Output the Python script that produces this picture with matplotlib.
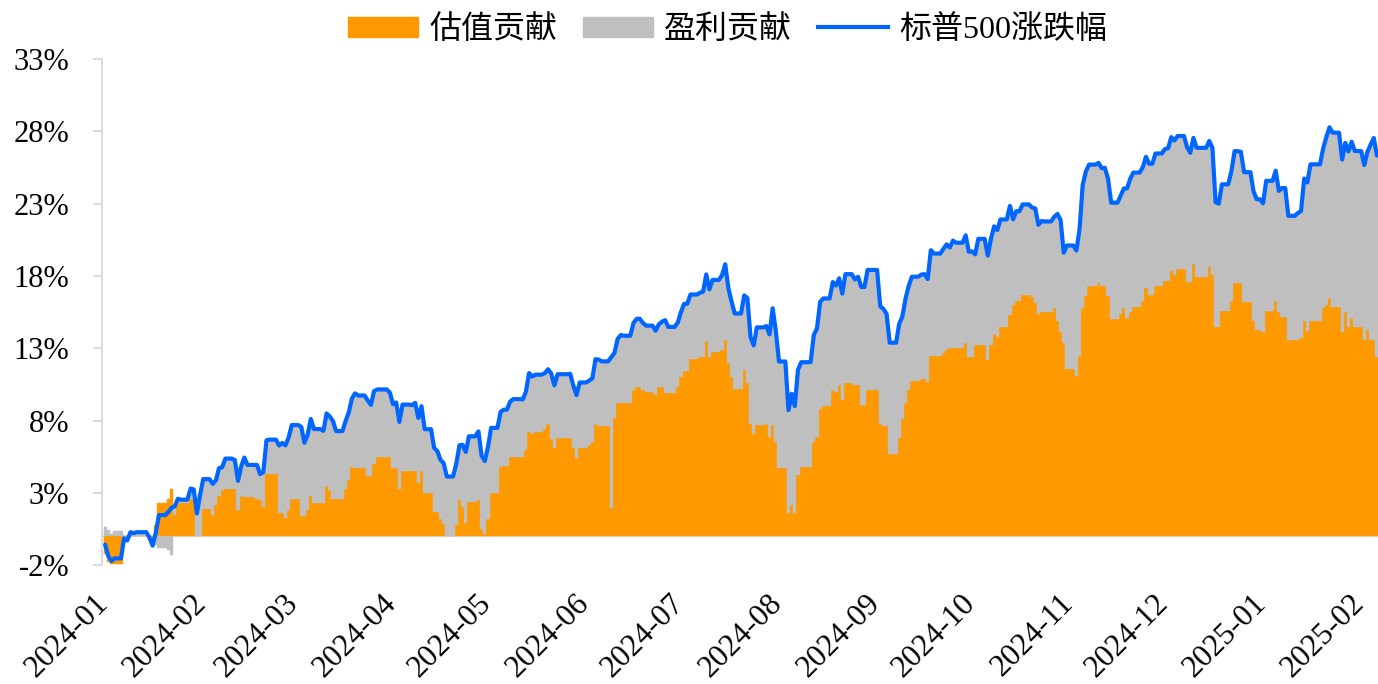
import numpy as np
import pandas as pd
import matplotlib
matplotlib.use("Agg")
import matplotlib.pyplot as plt
import matplotlib.dates as mdates
import matplotlib.transforms as mtransforms
from matplotlib.patches import Patch
from matplotlib.lines import Line2D
from matplotlib.ticker import FuncFormatter

plt.rcParams['font.family'] = ['Liberation Serif', 'Noto Sans CJK SC']

# trading-day values (Mon-Fri, holidays carry the previous close), in %
# one row per week, first row starts 2024-01-02
sp500 = [
    -0.57, -1.36, -1.70, -1.52,
    -0.13, -0.28, 0.29, 0.22, 0.29,
    0.29, -0.08, -0.64, 0.23, 1.47,
    1.69, 1.99, 2.07, 2.60, 2.54,
    3.30, 3.25, 1.59, 2.86, 3.96,
    3.63, 3.87, 4.72, 4.78, 5.38,
    5.28, 3.84, 4.84, 5.45, 4.94,
    4.94, 4.31, 4.44, 6.65, 6.69,
    6.28, 6.46, 6.29, 6.84, 7.70,
    7.57, 6.47, 7.02, 8.12, 7.42,
    7.30, 8.50, 8.29, 7.98, 7.28,
    7.96, 8.57, 9.53, 9.89, 9.74,
    9.40, 9.09, 10.03, 10.16, 10.16,
    9.94, 9.14, 9.26, 7.91, 9.11,
    9.07, 9.23, 8.19, 9.00, 7.41,
    6.12, 5.90, 5.29, 5.06, 4.14,
    5.05, 6.30, 6.33, 5.84, 6.92,
    7.26, 5.57, 5.21, 6.17, 7.50,
    8.61, 8.76, 8.76, 9.31, 9.49,
    9.47, 10.00, 11.29, 11.05, 11.18,
    11.29, 11.56, 11.26, 10.44, 11.21,
    11.21, 11.24, 10.42, 9.76, 10.64,
    10.77, 10.93, 12.25, 12.22, 12.10,
    12.39, 12.69, 13.65, 13.92, 13.87,
    14.75, 15.04, 15.04, 14.75, 14.57,
    14.22, 14.66, 14.84, 14.95, 14.48,
    14.78, 15.50, 16.08, 16.08, 16.72,
    16.84, 16.92, 18.11, 17.08, 17.73,
    18.06, 18.81, 17.16, 16.24, 15.41,
    16.66, 16.48, 13.78, 13.20, 14.45,
    14.54, 13.97, 15.77, 14.19, 12.09,
    8.73, 9.86, 9.01, 11.52, 12.04,
    12.05, 13.93, 14.37, 16.21, 16.45,
    17.58, 17.34, 17.84, 16.79, 18.13,
    17.76, 17.95, 17.24, 17.24, 18.42,
    18.42, 15.91, 15.73, 15.38, 13.39,
    14.70, 15.21, 16.44, 17.32, 17.95,
    18.10, 18.13, 17.79, 19.78, 19.55,
    19.89, 20.19, 19.97, 20.45, 20.30,
    20.81, 19.68, 19.70, 19.50, 20.57,
    19.41, 20.57, 21.43, 21.18, 21.91,
    22.85, 21.92, 22.49, 22.47, 22.95,
    22.73, 22.67, 21.54, 21.80, 21.77,
    22.09, 22.29, 21.88, 19.61, 20.11,
    19.77, 21.24, 24.30, 25.23, 25.70,
    25.82, 25.45, 25.48, 24.72, 23.07,
    23.56, 24.05, 24.05, 24.71, 25.15,
    25.53, 26.24, 25.76, 25.76, 26.47,
    26.78, 26.84, 27.60, 27.37, 27.68,
    26.90, 26.52, 27.55, 26.86, 26.86,
    27.34, 26.85, 23.11, 23.00, 24.34,
    25.25, 26.63, 26.63, 26.58, 25.18,
    23.84, 23.31, 23.31, 23.03, 24.58,
    25.28, 23.88, 24.08, 24.08, 22.16,
    22.35, 22.49, 24.74, 24.47, 25.72,
    25.72, 26.82, 27.60, 28.28, 27.91,
    26.05, 27.21, 26.61, 27.28, 26.64,
    25.67, 26.58, 27.08, 27.54, 26.33,
]

valuation = [
    -1.2, -1.8, -1.9, -1.9,
    0.0, 0.0, 0.05, 0.05, 0.05,
    0.05, -0.1, -0.3, 0.8, 2.3,
    2.6, 3.3, 1.5, 2.3, 2.3,
    2.6, 2.6, 0.0, 0.0, 1.9,
    1.5, 2.2, 2.8, 3.2, 3.3,
    3.3, 1.8, 2.8, 2.7, 2.7,
    2.6, 2.5, 2.0, 4.3, 4.3,
    1.6, 1.6, 1.3, 1.8, 2.6,
    1.4, 1.4, 1.8, 2.8, 2.3,
    2.3, 3.45, 3.2, 2.6, 2.6,
    3.3, 3.9, 4.8, 4.75, 4.75,
    4.2, 4.2, 5.0, 5.5, 5.5,
    5.5, 4.7, 4.7, 3.3, 4.5,
    4.5, 4.55, 3.7, 4.5, 3.0,
    1.7, 1.7, 1.2, 0.86, 0.0,
    0.8, 2.5, 2.0, 0.9, 2.4,
    2.5, 0.5, 0.2, 1.2, 3.0,
    4.8, 4.9, 4.9, 5.5, 5.5,
    5.5, 6.0, 7.2, 7.1, 7.2,
    7.4, 7.8, 6.7, 6.1, 6.8,
    6.8, 6.8, 6.1, 5.4, 6.1,
    6.3, 6.5, 7.77, 7.6, 7.6,
    1.94, 8.2, 9.2, 9.25, 9.25,
    10.1, 10.3, 10.3, 10.1, 10.0,
    9.75, 10.3, 10.3, 9.9, 9.9,
    10.3, 11.0, 11.45, 11.45, 12.24,
    12.37, 12.37, 13.5, 12.4, 12.76,
    12.9, 13.6, 11.96, 11.0, 10.2,
    11.5, 10.6, 7.8, 7.1, 7.7,
    7.8, 6.85, 7.7, 6.55, 4.7,
    1.6, 2.2, 1.6, 4.24, 4.8,
    4.8, 6.5, 6.85, 8.8, 9.0,
    10.15, 10.0, 10.5, 9.4, 10.6,
    10.5, 10.5, 9.1, 9.1, 10.15,
    10.15, 7.8, 7.6, 7.6, 5.7,
    6.8, 8.1, 9.24, 10.1, 10.76,
    10.9, 10.9, 10.7, 12.47, 12.47,
    12.65, 12.9, 13.0, 13.0, 13.0,
    13.4, 12.4, 12.4, 13.2, 13.2,
    12.2, 13.25, 14.0, 13.8, 14.45,
    15.3, 16.0, 16.3, 16.3, 16.7,
    16.55, 16.1, 15.4, 15.5, 15.5,
    15.8, 14.9, 14.15, 13.35, 11.55,
    11.1, 12.5, 15.76, 16.6, 17.3,
    17.5, 17.3, 17.3, 16.6, 15.0,
    15.4, 15.8, 15.1, 15.5, 15.87,
    16.3, 17.15, 16.7, 16.7, 17.3,
    17.67, 17.67, 18.4, 18.1, 18.46,
    17.6, 17.6, 18.8, 17.95, 17.95,
    18.6, 18.1, 14.45, 14.45, 15.6,
    16.3, 17.5, 17.5, 17.5, 16.2,
    14.9, 14.3, 14.3, 14.15, 15.6,
    16.3, 15.5, 15.2, 15.2, 13.57,
    13.57, 13.7, 14.9, 14.2, 14.9,
    14.9, 15.8, 16.0, 16.5, 15.85,
    14.1, 15.5, 14.5, 15.1, 14.5,
    13.6, 14.3, 13.57, 13.57, 12.4,
]

legend_labels = ['估值贡献', '盈利贡献', '标普500涨跌幅']

ORANGE = '#FF9900'
GRAY = '#BFBFBF'
BLUE = '#0066FF'
AXIS = '#D9D9D9'


def build_frame():
    bdays = pd.bdate_range('2024-01-02', '2025-02-07')
    df = pd.DataFrame({'total': sp500, 'val': valuation}, index=bdays)
    # weekends keep the Friday value, as in the source series
    daily = df.reindex(pd.date_range(bdays[0], bdays[-1], freq='D')).ffill()
    daily['earn'] = daily['total'] - daily['val']
    return daily


def draw(daily):
    fig = plt.figure(figsize=(13.78, 6.84), dpi=100)
    ax = fig.add_axes([0.074, 0.1735, 0.926, 0.7402])

    val = daily['val'].to_numpy()
    earn = daily['earn'].to_numpy()
    # stacked like a spreadsheet column chart: positives up from 0, negatives down
    bottom = np.where(earn >= 0, np.where(val > 0, val, 0), np.where(val < 0, val, 0))

    ax.axhline(0, color=AXIS, lw=1.3, zorder=1)
    ax.bar(daily.index, val, width=1.0, color=ORANGE, edgecolor=ORANGE, linewidth=0.3, zorder=2)
    ax.bar(daily.index, earn, bottom=bottom, width=1.0, color=GRAY, edgecolor=GRAY,
           linewidth=0.3, zorder=2)
    ax.plot(daily.index, daily['total'], color=BLUE, lw=3.0, zorder=4,
            solid_joinstyle='round', solid_capstyle='round')

    ax.set_ylim(-2, 33)
    ax.set_yticks(range(-2, 34, 5))
    ax.yaxis.set_major_formatter(FuncFormatter(lambda v, p: f'{v:.0f}%'))
    ax.set_xlim(pd.Timestamp('2024-01-01'), pd.Timestamp('2025-02-07 08:00'))
    ax.xaxis.set_major_locator(mdates.MonthLocator())
    ax.xaxis.set_major_formatter(mdates.DateFormatter('%Y-%m'))

    for side in ['top', 'right', 'bottom']:
        ax.spines[side].set_visible(False)
    ax.spines['left'].set_color(AXIS)
    ax.spines['left'].set_linewidth(1.3)

    ax.tick_params(axis='y', length=6.5, width=1.3, color=AXIS, labelsize=22, pad=17)
    ax.tick_params(axis='x', length=0, labelsize=22.5, pad=17)
    shift = mtransforms.ScaledTranslation(-6 / 72, 0, fig.dpi_scale_trans)
    for lab in ax.get_xticklabels():
        lab.set_rotation(45)
        lab.set_ha('right')
        lab.set_va('top')
        lab.set_rotation_mode('anchor')
        lab.set_transform(lab.get_transform() + shift)

    handles = [Patch(color=ORANGE), Patch(color=GRAY), Line2D([], [], color=BLUE, lw=3)]
    fig.legend(handles, legend_labels, loc='center', bbox_to_anchor=(0.528, 0.956),
               ncol=3, frameon=False, fontsize=23, handlelength=2.2, handleheight=0.6,
               handletextpad=0.35, columnspacing=0.8)

    fig.savefig('out.png', dpi=100)
    plt.close(fig)


def main():
    daily = build_frame()
    draw(daily)


if __name__ == "__main__":
    main()
